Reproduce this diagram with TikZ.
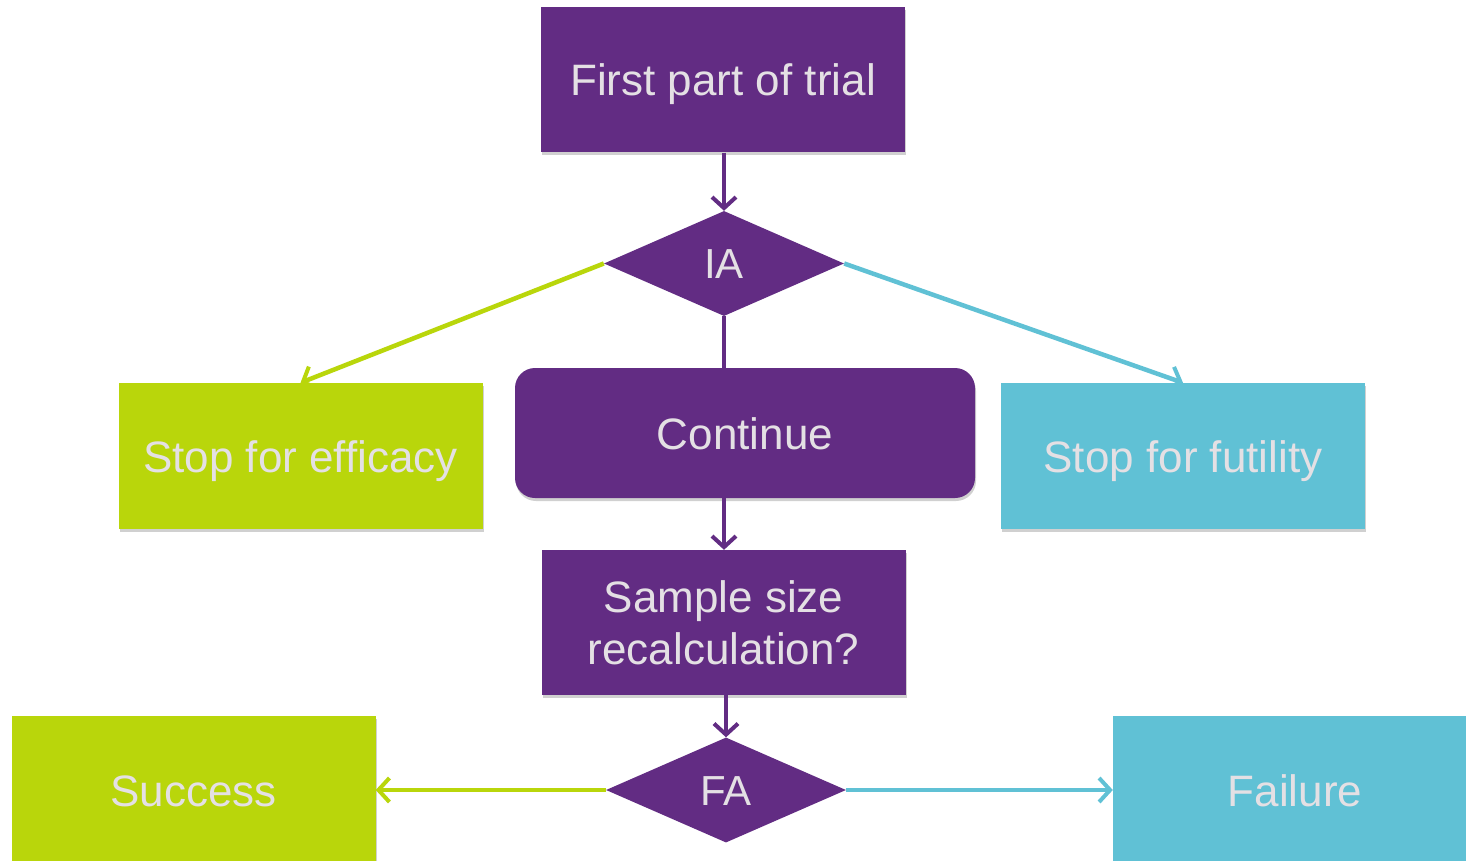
\documentclass[tikz,border=0pt]{standalone}
\usepackage{fontspec}
\setmainfont{Liberation Sans}
\usetikzlibrary{shapes.geometric,arrows.meta,shadows}
\definecolor{vpurple}{RGB}{98,44,131}
\definecolor{vgreen}{RGB}{185,214,11}
\definecolor{vcyan}{RGB}{96,193,213}
\definecolor{vtext}{RGB}{228,224,228}
\tikzset{
  shad/.style={drop shadow={shadow xshift=1pt,shadow yshift=-3pt,opacity=0.3,fill=black!60}},
  box/.style={rectangle,shad,inner sep=0pt,text=vtext,align=center,
    font=\fontsize{44}{52}\selectfont},
  one/.style={text height=32pt,text depth=0pt},
  pbox/.style={box,fill=vpurple,minimum width=364pt,minimum height=145pt},
  gbox/.style={box,one,fill=vgreen,minimum width=364pt,minimum height=146pt},
  cbox/.style={box,one,fill=vcyan,minimum width=364pt,minimum height=146pt},
  dia/.style={diamond,fill=vpurple,inner sep=0pt,minimum width=240pt,minimum height=105pt,
    text=vtext,font=\fontsize{42}{50}\selectfont,text height=30pt,text depth=0pt},
  conn/.style={line width=4.5pt,-{Straight Barb[length=11pt,width=24pt,line width=4pt]}},
  plain/.style={line width=4.5pt},
}
\begin{document}
\begin{tikzpicture}[x=1pt,y=-1pt]
\clip (0,0) rectangle (1466,861);
\fill[white] (0,0) rectangle (1466,861);

\node[pbox,one] (first) at (723,80) {First part of trial};
\node[dia] (ia) at (724,263.5) {IA};
\node[box,one,fill=vpurple,rounded corners=20pt,minimum width=460pt,minimum height=130pt] (cont) at (745,433) {Continue};
\node[gbox] (eff) at (300.5,456) {Stop for efficacy};
\node[cbox] (fut) at (1183,456) {Stop for futility};
\node[pbox] (ssr) at (723.5,622.5) {Sample size\\recalculation?};
\node[dia] (fa) at (726,790) {FA};
\node[gbox,minimum height=148pt] (succ) at (193.5,790) {Success};
\node[cbox,minimum height=148pt] (fail) at (1295,790) {Failure};

\coordinate (conttop) at (724,368);
\coordinate (contbot) at (724,498);

\draw[conn,vpurple] (first.south -| ia.north) -- (ia.north);
\draw[plain,vpurple] (ia.south) -- (conttop);
\draw[conn,vgreen] (ia.west) -- (eff.north);
\draw[conn,vcyan] (ia.east) -- (fut.north);
\draw[conn,vpurple] (contbot) -- (contbot |- ssr.north);
\draw[conn,vpurple] (ssr.south -| fa.north) -- (fa.north);
\draw[conn,vgreen] (fa.west) -- (succ.east);
\draw[conn,vcyan] (fa.east) -- (fail.west);
\end{tikzpicture}
\end{document}
